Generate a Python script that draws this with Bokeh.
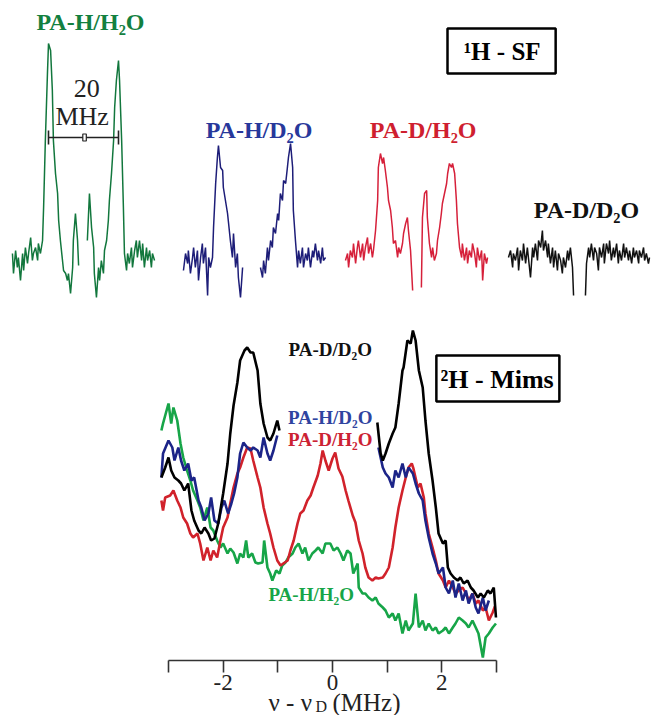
from bokeh.plotting import figure
from bokeh.models import Range1d, LinearAxis, FixedTicker, Label
from bokeh.embed import file_html
from bokeh.resources import INLINE

NaN = float("nan")

# ---------------- 1H SF spectra: (offset from spectrum centre / MHz, intensity / a.u.)
sf_pa_h_h2o = [
    (-20.3, 0.07), (-20.0, -0.13), (-19.4, 0.10), (-18.9, -0.07), (-18.6, 0.03), (-18.0, -0.20),
    (-17.4, 0.07), (-17.1, -0.10), (-16.6, 0.13), (-16.0, -0.03), (-15.7, 0.07), (-15.1, 0.23),
    (-14.6, 0.00), (-14.3, 0.07), (-13.7, 0.13), (-13.1, 0.00), (-12.9, 0.17), (-12.3, 0.07),
    (-11.7, 0.20), (-11.4, 0.53), (-10.9, 1.20), (-10.3, 1.87), (-10.0, 2.17), (-9.4, 2.10),
    (-8.9, 1.70), (-8.6, 1.20), (-8.0, 0.87), (-7.4, 0.67), (-7.1, 0.40), (-6.6, 0.20),
    (-6.0, 0.00), (-5.7, -0.10), (-5.1, -0.13), (-4.6, -0.20), (-4.3, -0.13), (-3.7, -0.33),
    (-3.1, -0.07), (-2.9, 0.20), (-2.3, 0.47), (-1.7, 0.20), (-1.4, -0.05),
    (NaN, NaN),
    (1.1, 0.20), (1.7, 0.67), (2.3, 0.33), (2.9, 0.13), (3.1, -0.13), (3.7, -0.37),
    (4.3, -0.07), (4.6, -0.20), (5.1, 0.00), (5.7, -0.13), (6.0, 0.10), (6.6, 0.20),
    (7.1, 0.40), (7.4, 0.60), (8.0, 0.87), (8.6, 1.20), (8.9, 1.53), (9.4, 1.80),
    (10.0, 2.00), (10.3, 1.80), (10.9, 1.20), (11.4, 0.53), (11.7, 0.07), (12.3, -0.10),
    (12.6, 0.07), (13.1, -0.03), (13.7, 0.13), (14.0, -0.07), (14.6, 0.10), (15.1, 0.20),
    (15.4, 0.03), (16.0, 0.20), (16.6, 0.00), (16.9, 0.17), (17.4, -0.07), (18.0, 0.13),
    (18.3, 0.00), (18.9, 0.10), (19.4, -0.07), (19.7, 0.07), (20.3, 0.00),
]
sf_pa_h_d2o = [
    (-20.3, -0.10), (-19.7, 0.07), (-19.1, -0.03), (-18.9, 0.10), (-18.3, -0.13), (-17.7, 0.03),
    (-17.4, 0.13), (-16.9, -0.07), (-16.3, 0.10), (-16.0, -0.20), (-15.4, 0.03), (-14.9, 0.17),
    (-14.6, -0.03), (-14.0, 0.13), (-13.4, -0.35), (-13.1, 0.03), (-12.6, -0.07), (-12.0, 0.03),
    (-11.7, 0.33), (-11.1, 0.77), (-10.6, 1.03), (-10.3, 1.15), (-9.7, 0.93), (-9.1, 0.90),
    (-8.9, 0.73), (-8.3, 0.60), (-7.7, 0.47), (-7.4, 0.37), (-6.9, 0.20), (-6.3, 0.03),
    (-6.0, 0.27), (-5.4, -0.07), (-4.9, 0.07), (-4.6, -0.17), (-4.0, -0.37), (-3.4, -0.07),
    (NaN, NaN),
    (1.7, -0.07), (2.3, -0.17), (2.6, 0.00), (3.1, -0.13), (3.7, 0.13), (4.0, 0.00),
    (4.6, 0.20), (5.1, 0.13), (5.4, 0.33), (6.0, 0.27), (6.6, 0.47), (6.9, 0.40),
    (7.4, 0.67), (8.0, 0.60), (8.3, 0.80), (8.9, 0.77), (9.4, 0.93), (9.7, 1.03),
    (10.3, 1.17), (10.9, 0.93), (11.1, 0.50), (11.7, 0.20), (12.3, -0.07), (12.6, 0.10),
    (13.1, -0.03), (13.7, 0.13), (14.0, -0.07), (14.6, 0.07), (15.1, 0.00), (15.4, 0.13),
    (16.0, -0.07), (16.6, 0.10), (16.9, 0.03), (17.4, 0.17), (18.0, 0.00), (18.3, 0.10),
    (18.9, -0.03), (19.4, 0.13), (19.7, 0.00), (20.3, 0.03),
]
sf_pa_d_h2o = [
    (-20.3, 0.00), (-19.7, 0.07), (-19.4, -0.07), (-18.9, 0.10), (-18.3, 0.03), (-18.0, 0.17),
    (-17.4, -0.03), (-16.9, 0.13), (-16.6, 0.20), (-16.0, 0.03), (-15.4, 0.17), (-15.1, 0.00),
    (-14.6, 0.13), (-14.0, 0.23), (-13.7, 0.07), (-13.1, 0.17), (-12.6, 0.03), (-12.3, 0.10),
    (-11.7, 0.30), (-11.1, 0.60), (-10.9, 0.93), (-10.3, 1.07), (-9.7, 0.97), (-9.4, 1.03),
    (-8.9, 0.90), (-8.3, 0.73), (-8.0, 0.60), (-7.4, 0.50), (-6.9, 0.33), (-6.6, 0.17),
    (-6.0, 0.20), (-5.4, 0.03), (-5.1, 0.13), (-4.6, 0.07), (-4.0, 0.17), (-3.7, 0.27),
    (-3.1, 0.37), (-2.6, 0.43), (-2.3, 0.30), (-1.7, 0.10), (-1.1, -0.30),
    (NaN, NaN),
    (1.4, -0.27), (1.7, 0.43), (2.3, 0.67), (2.9, 0.70), (3.1, 0.43), (3.7, 0.17),
    (4.3, 0.03), (4.6, 0.13), (5.1, 0.00), (5.7, 0.07), (6.0, 0.20), (6.6, 0.33),
    (7.1, 0.47), (7.4, 0.57), (8.0, 0.67), (8.6, 0.77), (8.9, 0.87), (9.4, 0.97),
    (10.0, 0.93), (10.3, 0.97), (10.9, 0.87), (11.4, 0.60), (11.7, 0.37), (12.3, 0.13),
    (12.9, 0.03), (13.1, 0.17), (13.7, 0.00), (14.3, 0.13), (14.6, -0.03), (15.1, 0.10),
    (15.7, 0.03), (16.0, 0.17), (16.6, 0.07), (17.1, -0.07), (17.4, 0.13), (18.0, 0.00),
    (18.6, 0.10), (18.9, -0.20), (19.4, 0.07), (20.0, -0.03), (20.3, 0.03),
]
sf_pa_d_d2o = [
    (-20.3, 0.03), (-19.7, 0.10), (-19.1, -0.07), (-18.9, 0.07), (-18.3, 0.00), (-17.7, 0.13),
    (-17.4, -0.10), (-16.9, 0.10), (-16.3, 0.00), (-16.0, 0.17), (-15.4, -0.03), (-14.9, 0.13),
    (-14.6, 0.03), (-14.0, -0.17), (-13.4, 0.13), (-13.1, 0.03), (-12.6, 0.17), (-12.0, 0.00),
    (-11.7, 0.20), (-11.1, 0.13), (-10.6, 0.30), (-10.3, 0.10), (-9.7, 0.20), (-9.1, 0.03),
    (-8.9, 0.17), (-8.3, -0.03), (-7.7, 0.13), (-7.4, -0.07), (-6.9, 0.10), (-6.3, -0.10),
    (-6.0, 0.07), (-5.4, 0.00), (-4.9, -0.13), (-4.6, 0.03), (-4.0, -0.07), (-3.4, 0.10),
    (-3.1, 0.00), (-2.6, 0.13), (-2.0, -0.07), (-1.7, -0.35),
    (NaN, NaN),
    (1.7, -0.35), (2.0, -0.03), (2.6, 0.13), (2.9, 0.03), (3.4, 0.17), (4.0, 0.00),
    (4.3, 0.13), (4.9, 0.07), (5.4, -0.10), (5.7, 0.13), (6.3, 0.03), (6.9, 0.17),
    (7.1, -0.03), (7.7, 0.17), (8.3, 0.07), (8.6, 0.20), (9.1, 0.00), (9.7, 0.13),
    (10.0, 0.03), (10.6, 0.17), (11.1, -0.03), (11.4, 0.10), (12.0, 0.00), (12.6, 0.17),
    (12.9, 0.03), (13.4, 0.13), (14.0, 0.00), (14.3, 0.10), (14.9, -0.03), (15.4, 0.13),
    (15.7, 0.03), (16.3, 0.10), (16.9, -0.03), (17.1, 0.10), (17.7, 0.03), (18.3, 0.13),
    (18.6, 0.00), (19.1, 0.07), (19.7, -0.03), (20.0, 0.03),
]

# ---------------- 2H Mims ENDOR: (nu - nu_D / MHz, intensity / a.u.)
mims_pa_h_h2o = [
    (-3.13, 2.30), (-3.10, 2.37), (-3.00, 2.57), (-2.95, 2.37), (-2.91, 2.53), (-2.84, 2.40),
    (-2.78, 2.17), (-2.73, 2.03), (-2.66, 1.90), (-2.60, 1.80), (-2.55, 1.70), (-2.47, 1.60),
    (-2.42, 1.53), (-2.36, 1.40), (-2.29, 1.53), (-2.23, 1.33), (-2.18, 1.30), (-2.11, 1.20),
    (-2.05, 1.13), (-2.00, 1.17), (-1.92, 1.07), (-1.87, 1.12), (-1.81, 1.08), (-1.74, 0.97),
    (-1.69, 1.07), (-1.63, 1.03), (-1.58, 1.20), (-1.54, 1.03), (-1.47, 1.07), (-1.41, 0.98),
    (-1.36, 0.97), (-1.28, 0.98), (-1.25, 1.20), (-1.19, 0.93), (-1.14, 0.87), (-1.10, 0.80),
    (-1.03, 0.90), (-0.97, 0.87), (-0.92, 0.95), (-0.86, 0.98), (-0.81, 1.03), (-0.73, 1.07),
    (-0.68, 1.13), (-0.62, 1.17), (-0.55, 1.07), (-0.50, 1.13), (-0.44, 1.00), (-0.37, 1.07),
    (-0.31, 1.10), (-0.26, 1.13), (-0.18, 1.07), (-0.13, 1.17), (-0.04, 1.17), (0.02, 1.10),
    (0.09, 1.13), (0.15, 1.07), (0.20, 1.00), (0.27, 1.10), (0.33, 1.07), (0.38, 0.87),
    (0.46, 0.97), (0.48, 0.73), (0.55, 0.67), (0.60, 0.67), (0.66, 0.63), (0.73, 0.60),
    (0.79, 0.63), (0.84, 0.57), (0.92, 0.53), (0.97, 0.50), (1.03, 0.43), (1.10, 0.47),
    (1.15, 0.40), (1.21, 0.47), (1.28, 0.27), (1.34, 0.40), (1.39, 0.30), (1.47, 0.37),
    (1.52, 0.67), (1.58, 0.33), (1.65, 0.40), (1.70, 0.30), (1.76, 0.37), (1.83, 0.30),
    (1.89, 0.33), (1.94, 0.27), (2.02, 0.30), (2.07, 0.33), (2.13, 0.27), (2.20, 0.33),
    (2.25, 0.37), (2.31, 0.43), (2.38, 0.40), (2.44, 0.37), (2.49, 0.33), (2.56, 0.40),
    (2.62, 0.33), (2.67, 0.27), (2.75, 0.03), (2.80, 0.23), (2.86, 0.27), (2.93, 0.33),
    (2.99, 0.37),
]
mims_pa_h_d2o = [
    (-3.13, 1.83), (-3.10, 2.07), (-3.00, 2.20), (-2.93, 2.13), (-2.89, 2.00), (-2.82, 2.13),
    (-2.77, 2.00), (-2.71, 1.90), (-2.64, 1.97), (-2.58, 1.80), (-2.53, 1.83), (-2.45, 1.60),
    (-2.40, 1.53), (-2.34, 1.40), (-2.27, 1.47), (-2.22, 1.63), (-2.16, 1.40), (-2.09, 1.37),
    (-2.03, 1.53), (-1.98, 1.60), (-1.91, 1.47), (-1.85, 1.57), (-1.80, 1.67), (-1.74, 1.83),
    (-1.69, 2.07), (-1.63, 2.18), (-1.56, 2.13), (-1.50, 2.10), (-1.45, 2.13), (-1.37, 2.10),
    (-1.32, 2.03), (-1.26, 2.23), (-1.19, 2.07), (-1.14, 2.00), (-1.08, 2.10), (-1.01, 2.25),
    (NaN, NaN),
    (0.84, 2.13), (0.92, 1.93), (0.97, 1.87), (1.03, 1.83), (1.10, 1.73), (1.15, 1.90),
    (1.21, 1.83), (1.28, 1.97), (1.34, 1.83), (1.39, 1.93), (1.47, 1.87), (1.52, 1.77),
    (1.58, 1.67), (1.65, 1.60), (1.70, 1.40), (1.76, 1.23), (1.83, 1.07), (1.89, 0.97),
    (1.94, 0.87), (2.02, 0.93), (2.07, 0.73), (2.13, 0.67), (2.20, 0.80), (2.25, 0.63),
    (2.31, 0.77), (2.38, 0.60), (2.44, 0.70), (2.49, 0.57), (2.56, 0.67), (2.62, 0.53),
    (2.67, 0.47), (2.75, 0.63), (2.80, 0.50), (2.86, 0.60),
]
mims_pa_d_h2o = [
    (-3.13, 1.60), (-3.10, 1.50), (-3.06, 1.63), (-2.97, 1.65), (-2.91, 1.70), (-2.84, 1.60),
    (-2.78, 1.53), (-2.73, 1.43), (-2.66, 1.37), (-2.60, 1.27), (-2.55, 1.23), (-2.47, 1.27),
    (-2.42, 1.17), (-2.36, 1.00), (-2.29, 1.13), (-2.23, 1.00), (-2.18, 1.10), (-2.11, 1.03),
    (-2.05, 1.20), (-2.00, 1.33), (-1.92, 1.43), (-1.87, 1.57), (-1.81, 1.73), (-1.74, 1.87),
    (-1.69, 1.93), (-1.63, 2.03), (-1.56, 2.13), (-1.50, 2.12), (-1.45, 2.00), (-1.37, 1.83),
    (-1.32, 1.73), (-1.26, 1.53), (-1.19, 1.37), (-1.14, 1.27), (-1.08, 1.13), (-1.01, 1.00),
    (-0.95, 0.95), (-0.90, 0.97), (-0.82, 1.00), (-0.77, 1.10), (-0.71, 1.20), (-0.64, 1.37),
    (-0.59, 1.47), (-0.53, 1.50), (-0.46, 1.60), (-0.40, 1.65), (-0.35, 1.73), (-0.27, 1.85),
    (-0.22, 1.97), (-0.18, 2.10), (-0.13, 2.00), (-0.07, 1.90), (0.00, 2.02), (0.05, 2.08),
    (0.11, 1.92), (0.18, 1.84), (0.24, 1.70), (0.29, 1.60), (0.37, 1.45), (0.42, 1.38),
    (0.48, 1.20), (0.55, 1.07), (0.60, 0.93), (0.66, 0.83), (0.73, 0.80), (0.79, 0.83),
    (0.84, 0.82), (0.92, 0.83), (0.97, 0.87), (1.03, 0.93), (1.10, 1.13), (1.15, 1.33),
    (1.21, 1.53), (1.28, 1.70), (1.34, 1.83), (1.39, 1.93), (1.45, 1.97), (1.48, 1.92),
    (1.56, 1.73), (1.61, 1.77), (1.67, 1.63), (1.70, 1.47), (1.76, 1.27), (1.83, 1.13),
    (1.89, 1.00), (1.94, 0.87), (2.02, 0.80), (2.07, 0.73), (2.13, 0.80), (2.20, 0.73),
    (2.25, 0.67), (2.31, 0.70), (2.38, 0.73), (2.44, 0.67), (2.49, 0.60), (2.56, 0.67),
    (2.62, 0.57), (2.67, 0.60), (2.75, 0.50), (2.80, 0.53), (2.86, 0.40), (2.93, 0.48),
    (2.97, 0.54),
]
mims_pa_d_d2o = [
    (-3.13, 1.83), (-3.06, 1.93), (-3.00, 2.03), (-2.95, 1.90), (-2.89, 1.83), (-2.82, 1.80),
    (-2.77, 1.77), (-2.71, 1.70), (-2.64, 1.77), (-2.58, 1.50), (-2.53, 1.40), (-2.45, 1.30),
    (-2.40, 1.27), (-2.34, 1.33), (-2.27, 1.27), (-2.22, 1.20), (-2.16, 1.22), (-2.09, 1.37),
    (-2.03, 1.57), (-2.00, 1.67), (-1.92, 1.97), (-1.87, 2.27), (-1.81, 2.55), (-1.74, 2.78),
    (-1.69, 3.00), (-1.61, 3.10), (-1.56, 3.13), (-1.50, 3.08), (-1.45, 3.08), (-1.37, 2.90),
    (-1.32, 2.57), (-1.26, 2.37), (-1.19, 2.23), (-1.14, 2.20), (-1.08, 2.27), (-1.01, 2.40),
    (-0.97, 2.30),
    (NaN, NaN),
    (0.82, 2.38), (0.88, 2.07), (0.92, 2.00), (0.97, 2.07), (1.03, 2.17), (1.10, 2.27),
    (1.15, 2.33), (1.21, 2.57), (1.28, 2.90), (1.30, 2.93), (1.37, 3.20), (1.43, 3.17),
    (1.47, 3.30), (1.52, 3.20), (1.58, 2.90), (1.65, 2.73), (1.70, 2.40), (1.76, 2.07),
    (1.83, 1.80), (1.89, 1.53), (1.94, 1.27), (2.02, 1.17), (2.07, 1.20), (2.11, 0.93),
    (2.16, 0.87), (2.22, 0.83), (2.29, 0.80), (2.34, 0.83), (2.40, 0.77), (2.47, 0.80),
    (2.53, 0.73), (2.58, 0.70), (2.66, 0.63), (2.71, 0.67), (2.77, 0.63), (2.84, 0.70),
    (2.89, 0.67), (2.95, 0.73), (2.99, 0.43),
]

sample_names = ["PA-H/H\u2082O", "PA-H/D\u2082O", "PA-D/H\u2082O", "PA-D/D\u2082O"]
sf_series = [sf_pa_h_h2o, sf_pa_h_d2o, sf_pa_d_h2o, sf_pa_d_d2o]
mims_series = [mims_pa_h_h2o, mims_pa_h_d2o, mims_pa_d_h2o, mims_pa_d_d2o]
mims_ticks = [-3, -2, -1, 0, 1, 2, 3]
mims_tick_text = {-3: "", -2: "-2", -1: "", 0: "0", 1: "", 2: "2", 3: ""}
scale_bar_mhz = 20
sf_title = "\u00b9H - SF"
mims_title = "\u00b2H - Mims"
axis_title_parts = ["\u03bd - \u03bd", "D", "(MHz)"]

# ---------------- layout / style (not data)
FONT = "Liberation Serif"
top_colors = ["#12773d", "#1d1d78", "#d6203a", "#111111"]
top_label_colors = ["#13803f", "#27389b", "#cf1f30", "#111111"]
bot_colors = ["#17a548", "#1c2488", "#d1222b", "#000000"]
bot_label_colors = ["#17a548", "#2f44a0", "#cc2233", "#111111"]

W, H = 651, 715
AXIS_PX = 660.0          # pixel row of the Mims intensity zero / x axis
PX_MHZ_BOT, ZERO_PX = 54.67, 332.0
PX_MHZ_TOP = 3.5
panel_centres_px = [83, 254, 416, 579]
TOP_BASE_PX = 260.0
LIFT = 0.09              # label baseline correction

p = figure(width=W, height=H, toolbar_location=None, output_backend="svg",
           x_axis_location=None, y_axis_location=None,
           x_range=Range1d(-ZERO_PX / PX_MHZ_BOT, (W - ZERO_PX) / PX_MHZ_BOT),
           y_range=Range1d(-(H - AXIS_PX) / 100.0, AXIS_PX / 100.0),
           min_border_left=0, min_border_right=0, min_border_top=0, min_border_bottom=0)
p.outline_line_color = None
p.xgrid.visible = False
p.ygrid.visible = False
p.background_fill_color = "white"
p.border_fill_color = "white"

p.extra_y_ranges = {"top": Range1d(-(H - TOP_BASE_PX) / 100.0, TOP_BASE_PX / 100.0)}
xr = {}
for i, c in enumerate(panel_centres_px):
    xr["sf%d" % i] = Range1d(-c / PX_MHZ_TOP, (W - c) / PX_MHZ_TOP)
p.extra_x_ranges = xr

# top spectra
for i, ser in enumerate(sf_series):
    xs, ys = zip(*ser)
    p.line(list(xs), list(ys), x_range_name="sf%d" % i, y_range_name="top",
           line_color=top_colors[i], line_width=1.5)

# scale bar on the first spectrum
half = scale_bar_mhz / 2
bar_y = 1.23
p.segment(x0=[-half, -half, half], y0=[bar_y, bar_y - 0.07, bar_y - 0.07],
          x1=[half, -half, half], y1=[bar_y, bar_y + 0.07, bar_y + 0.07],
          x_range_name="sf0", y_range_name="top", line_color="#222222", line_width=1.6)
p.rect(x=[0.3], y=[bar_y], width=1.0, height=0.07, fill_color="white", line_color="#222222",
       line_width=1.2, x_range_name="sf0", y_range_name="top")
p.add_layout(Label(x=0.9, y=1.63 + LIFT, text="20", x_range_name="sf0", y_range_name="top",
                   text_font=FONT, text_font_size="26px", text_color="#222222",
                   text_align="center", text_baseline="alphabetic"))
p.add_layout(Label(x=-0.4, y=1.35 + LIFT, text="MHz", x_range_name="sf0", y_range_name="top",
                   text_font=FONT, text_font_size="26px", text_color="#222222",
                   text_align="center", text_baseline="alphabetic"))

# top labels
top_label_pos = [(2.0, 2.30), (1.3, 1.22), (1.9, 1.22), (2.0, 0.42)]
for i, (lx, ly) in enumerate(top_label_pos):
    p.add_layout(Label(x=lx, y=ly + LIFT, text=sample_names[i], x_range_name="sf%d" % i,
                       y_range_name="top", text_font=FONT, text_font_size="24px",
                       text_font_style="bold", text_color=top_label_colors[i],
                       text_align="center", text_baseline="alphabetic"))

# 1H - SF box
p.quad(left=[104.0], right=[134.9], top=[2.32], bottom=[1.87], fill_color=None,
       line_color="black", line_width=2.5, x_range_name="sf0", y_range_name="top")
p.add_layout(Label(x=119.6, y=2.00 + LIFT, text=sf_title, x_range_name="sf0", y_range_name="top",
                   text_font=FONT, text_font_size="25px", text_font_style="bold",
                   text_color="black", text_align="center", text_baseline="alphabetic"))

# bottom spectra (draw green first, black last)
for i in [0, 2, 1, 3]:
    xs, ys = zip(*mims_series[i])
    p.line(list(xs), list(ys), line_color=bot_colors[i], line_width=2.6)

bot_label_pos = [(-0.39, 0.58), (-0.04, 2.35), (-0.04, 2.13), (-0.04, 3.03)]
for i, (lx, ly) in enumerate(bot_label_pos):
    p.add_layout(Label(x=lx, y=ly + LIFT * 0.9, text=sample_names[i], text_font=FONT,
                       text_font_size="19px", text_font_style="bold",
                       text_color=bot_label_colors[i], text_align="center",
                       text_baseline="alphabetic"))

p.quad(left=[1.90], right=[4.15], top=[3.05], bottom=[2.59], fill_color=None,
       line_color="black", line_width=2.5)
p.add_layout(Label(x=3.01, y=2.72 + LIFT, text=mims_title, text_font=FONT, text_font_size="26px",
                   text_font_style="bold", text_color="black", text_align="center",
                   text_baseline="alphabetic"))

# x axis, pinned at intensity zero inside the frame
ax = LinearAxis(ticker=FixedTicker(ticks=mims_ticks), bounds=(-3, 3), fixed_location=0)
ax.major_label_overrides = mims_tick_text
ax.minor_tick_line_color = None
ax.major_tick_in = 0
ax.major_tick_out = 12
ax.major_tick_line_width = 1.6
ax.major_tick_line_color = "#333333"
ax.axis_line_width = 1.6
ax.axis_line_color = "#333333"
ax.major_label_text_font = FONT
ax.major_label_text_font_size = "23px"
ax.major_label_text_color = "#222222"
ax.major_label_standoff = 2
p.add_layout(ax, "below")

# axis title  nu - nu_D (MHz), placed just under the tick labels
for txt, lx, ly, fs in zip(axis_title_parts, [-1.17, -0.31, 0.0], [-0.42, -0.46, -0.42],
                           ["25px", "16px", "25px"]):
    p.add_layout(Label(x=lx, y=ly, text=txt, text_font=FONT, text_font_size=fs,
                       text_color="#222222", text_align="left", text_baseline="alphabetic"))

open("out.html", "w").write(file_html(p, INLINE))
